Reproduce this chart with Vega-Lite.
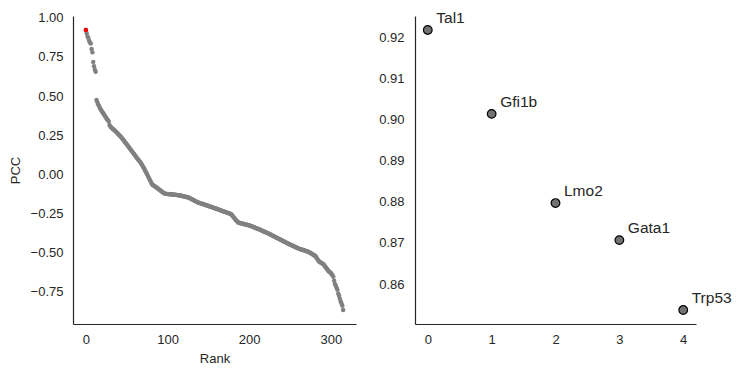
{
"$schema": "https://vega.github.io/schema/vega-lite/v6.json",
"background": "white",
"padding": {"left": 9, "top": 10, "right": 0, "bottom": 0},
"config": {
  "view": {"stroke": null},
  "font": "Liberation Sans",
  "axis": {"grid": false, "ticks": false, "tickSize": 0, "domainColor": "#262626", "domainWidth": 1.2, "labelColor": "#262626", "titleColor": "#262626", "labelFontSize": 13, "titleFontSize": 13, "titleFontWeight": "normal", "labelFont": "Liberation Sans", "titleFont": "Liberation Sans"}
},
"spacing": 22,
"hconcat": [
{
  "width": 283, "height": 308,
  "data": {"values": [
{"r":0,"v":0.9218},{"r":1,"v":0.9014},{"r":2,"v":0.8797},{"r":3,"v":0.8707},{"r":4,"v":0.8537},{"r":5,"v":0.842},{"r":6,"v":0.836},{"r":7,"v":0.800},{"r":8,"v":0.780},{"r":9,"v":0.718},
{"r":10,"v":0.690},{"r":11,"v":0.668},{"r":12,"v":0.655},{"r":13,"v":0.474},{"r":14,"v":0.462},{"r":15,"v":0.448},{"r":16,"v":0.438},{"r":17,"v":0.425},{"r":18,"v":0.415},{"r":19,"v":0.407},
{"r":20,"v":0.399},{"r":21,"v":0.391},{"r":22,"v":0.383},{"r":23,"v":0.375},{"r":24,"v":0.367},{"r":25,"v":0.359},{"r":26,"v":0.351},{"r":27,"v":0.345},{"r":28,"v":0.338},{"r":29,"v":0.315},
{"r":30,"v":0.305},{"r":31,"v":0.300},{"r":32,"v":0.295},{"r":33,"v":0.290},{"r":34,"v":0.286},{"r":35,"v":0.281},{"r":36,"v":0.276},{"r":37,"v":0.271},{"r":38,"v":0.266},{"r":39,"v":0.260},
{"r":40,"v":0.255},{"r":41,"v":0.250},{"r":42,"v":0.245},{"r":43,"v":0.238},{"r":44,"v":0.232},{"r":45,"v":0.225},{"r":46,"v":0.219},{"r":47,"v":0.212},{"r":48,"v":0.205},{"r":49,"v":0.199},
{"r":50,"v":0.192},{"r":51,"v":0.185},{"r":52,"v":0.178},{"r":53,"v":0.171},{"r":54,"v":0.164},{"r":55,"v":0.157},{"r":56,"v":0.150},{"r":57,"v":0.143},{"r":58,"v":0.136},{"r":59,"v":0.129},
{"r":60,"v":0.122},{"r":61,"v":0.115},{"r":62,"v":0.108},{"r":63,"v":0.101},{"r":64,"v":0.095},{"r":65,"v":0.088},{"r":66,"v":0.081},{"r":67,"v":0.075},{"r":68,"v":0.068},{"r":69,"v":0.058},
{"r":70,"v":0.049},{"r":71,"v":0.040},{"r":72,"v":0.030},{"r":73,"v":0.020},{"r":74,"v":0.010},{"r":75,"v":0.000},{"r":76,"v":-0.011},{"r":77,"v":-0.022},{"r":78,"v":-0.032},{"r":79,"v":-0.043},
{"r":80,"v":-0.053},{"r":81,"v":-0.064},{"r":82,"v":-0.068},{"r":83,"v":-0.072},{"r":84,"v":-0.075},{"r":85,"v":-0.079},{"r":86,"v":-0.082},{"r":87,"v":-0.086},{"r":88,"v":-0.090},{"r":89,"v":-0.094},
{"r":90,"v":-0.098},{"r":91,"v":-0.102},{"r":92,"v":-0.106},{"r":93,"v":-0.110},{"r":94,"v":-0.114},{"r":95,"v":-0.117},{"r":96,"v":-0.121},{"r":97,"v":-0.124},{"r":98,"v":-0.125},{"r":99,"v":-0.125},
{"r":100,"v":-0.126},{"r":101,"v":-0.126},{"r":102,"v":-0.127},{"r":103,"v":-0.127},{"r":104,"v":-0.128},{"r":105,"v":-0.128},{"r":106,"v":-0.129},{"r":107,"v":-0.129},{"r":108,"v":-0.130},{"r":109,"v":-0.131},
{"r":110,"v":-0.131},{"r":111,"v":-0.132},{"r":112,"v":-0.133},{"r":113,"v":-0.133},{"r":114,"v":-0.134},{"r":115,"v":-0.135},{"r":116,"v":-0.136},{"r":117,"v":-0.137},{"r":118,"v":-0.139},{"r":119,"v":-0.140},
{"r":120,"v":-0.141},{"r":121,"v":-0.142},{"r":122,"v":-0.144},{"r":123,"v":-0.145},{"r":124,"v":-0.146},{"r":125,"v":-0.147},{"r":126,"v":-0.149},{"r":127,"v":-0.151},{"r":128,"v":-0.154},{"r":129,"v":-0.157},
{"r":130,"v":-0.160},{"r":131,"v":-0.162},{"r":132,"v":-0.165},{"r":133,"v":-0.168},{"r":134,"v":-0.170},{"r":135,"v":-0.173},{"r":136,"v":-0.176},{"r":137,"v":-0.178},{"r":138,"v":-0.181},{"r":139,"v":-0.183},
{"r":140,"v":-0.184},{"r":141,"v":-0.186},{"r":142,"v":-0.188},{"r":143,"v":-0.190},{"r":144,"v":-0.191},{"r":145,"v":-0.193},{"r":146,"v":-0.195},{"r":147,"v":-0.197},{"r":148,"v":-0.198},{"r":149,"v":-0.200},
{"r":150,"v":-0.202},{"r":151,"v":-0.204},{"r":152,"v":-0.206},{"r":153,"v":-0.207},{"r":154,"v":-0.209},{"r":155,"v":-0.211},{"r":156,"v":-0.213},{"r":157,"v":-0.215},{"r":158,"v":-0.217},{"r":159,"v":-0.218},
{"r":160,"v":-0.220},{"r":161,"v":-0.222},{"r":162,"v":-0.224},{"r":163,"v":-0.226},{"r":164,"v":-0.228},{"r":165,"v":-0.230},{"r":166,"v":-0.232},{"r":167,"v":-0.234},{"r":168,"v":-0.236},{"r":169,"v":-0.238},
{"r":170,"v":-0.240},{"r":171,"v":-0.241},{"r":172,"v":-0.243},{"r":173,"v":-0.245},{"r":174,"v":-0.247},{"r":175,"v":-0.249},{"r":176,"v":-0.251},{"r":177,"v":-0.253},{"r":178,"v":-0.255},{"r":179,"v":-0.262},
{"r":180,"v":-0.268},{"r":181,"v":-0.275},{"r":182,"v":-0.281},{"r":183,"v":-0.288},{"r":184,"v":-0.293},{"r":185,"v":-0.299},{"r":186,"v":-0.304},{"r":187,"v":-0.309},{"r":188,"v":-0.310},{"r":189,"v":-0.312},
{"r":190,"v":-0.313},{"r":191,"v":-0.314},{"r":192,"v":-0.316},{"r":193,"v":-0.317},{"r":194,"v":-0.318},{"r":195,"v":-0.320},{"r":196,"v":-0.321},{"r":197,"v":-0.322},{"r":198,"v":-0.324},{"r":199,"v":-0.325},
{"r":200,"v":-0.326},{"r":201,"v":-0.328},{"r":202,"v":-0.330},{"r":203,"v":-0.332},{"r":204,"v":-0.334},{"r":205,"v":-0.336},{"r":206,"v":-0.338},{"r":207,"v":-0.341},{"r":208,"v":-0.343},{"r":209,"v":-0.345},
{"r":210,"v":-0.347},{"r":211,"v":-0.349},{"r":212,"v":-0.351},{"r":213,"v":-0.353},{"r":214,"v":-0.356},{"r":215,"v":-0.358},{"r":216,"v":-0.360},{"r":217,"v":-0.363},{"r":218,"v":-0.365},{"r":219,"v":-0.367},
{"r":220,"v":-0.370},{"r":221,"v":-0.372},{"r":222,"v":-0.374},{"r":223,"v":-0.377},{"r":224,"v":-0.379},{"r":225,"v":-0.382},{"r":226,"v":-0.384},{"r":227,"v":-0.387},{"r":228,"v":-0.390},{"r":229,"v":-0.392},
{"r":230,"v":-0.395},{"r":231,"v":-0.398},{"r":232,"v":-0.400},{"r":233,"v":-0.403},{"r":234,"v":-0.406},{"r":235,"v":-0.408},{"r":236,"v":-0.411},{"r":237,"v":-0.414},{"r":238,"v":-0.416},{"r":239,"v":-0.419},
{"r":240,"v":-0.422},{"r":241,"v":-0.424},{"r":242,"v":-0.427},{"r":243,"v":-0.430},{"r":244,"v":-0.432},{"r":245,"v":-0.435},{"r":246,"v":-0.438},{"r":247,"v":-0.440},{"r":248,"v":-0.443},{"r":249,"v":-0.446},
{"r":250,"v":-0.448},{"r":251,"v":-0.451},{"r":252,"v":-0.453},{"r":253,"v":-0.456},{"r":254,"v":-0.458},{"r":255,"v":-0.461},{"r":256,"v":-0.463},{"r":257,"v":-0.466},{"r":258,"v":-0.468},{"r":259,"v":-0.471},
{"r":260,"v":-0.473},{"r":261,"v":-0.475},{"r":262,"v":-0.477},{"r":263,"v":-0.478},{"r":264,"v":-0.480},{"r":265,"v":-0.482},{"r":266,"v":-0.484},{"r":267,"v":-0.485},{"r":268,"v":-0.487},{"r":269,"v":-0.489},
{"r":270,"v":-0.491},{"r":271,"v":-0.492},{"r":272,"v":-0.494},{"r":273,"v":-0.496},{"r":274,"v":-0.499},{"r":275,"v":-0.503},{"r":276,"v":-0.506},{"r":277,"v":-0.509},{"r":278,"v":-0.512},{"r":279,"v":-0.516},
{"r":280,"v":-0.519},{"r":281,"v":-0.522},{"r":282,"v":-0.530},{"r":283,"v":-0.538},{"r":284,"v":-0.546},{"r":285,"v":-0.554},{"r":286,"v":-0.558},{"r":287,"v":-0.561},{"r":288,"v":-0.565},{"r":289,"v":-0.568},
{"r":290,"v":-0.572},{"r":291,"v":-0.575},{"r":292,"v":-0.582},{"r":293,"v":-0.589},{"r":294,"v":-0.596},{"r":295,"v":-0.603},{"r":296,"v":-0.610},{"r":297,"v":-0.617},{"r":298,"v":-0.622},{"r":299,"v":-0.626},
{"r":300,"v":-0.630},{"r":301,"v":-0.638},{"r":302,"v":-0.645},{"r":303,"v":-0.655},{"r":304,"v":-0.680},{"r":305,"v":-0.700},{"r":306,"v":-0.712},{"r":307,"v":-0.725},{"r":308,"v":-0.738},{"r":309,"v":-0.762},
{"r":310,"v":-0.775},{"r":311,"v":-0.795},{"r":312,"v":-0.812},{"r":313,"v":-0.825},{"r":314,"v":-0.840},{"r":315,"v":-0.867}
  ]},
  "encoding": {
    "x": {"field": "r", "type": "quantitative", "scale": {"domain": [-15.75, 330.75], "nice": false, "zero": false}, "axis": {"values": [0, 100, 200, 300], "title": "Rank", "labelPadding": 9, "titlePadding": 6}},
    "y": {"field": "v", "type": "quantitative", "scale": {"domain": [-0.956, 1.011], "nice": false, "zero": false}, "axis": {"values": [-0.75, -0.5, -0.25, 0, 0.25, 0.5, 0.75, 1], "format": ".2f", "title": "PCC", "labelPadding": 10, "titlePadding": 8}}
  },
  "layer": [
    {"mark": {"type": "point", "filled": true, "size": 20, "opacity": 1, "color": "#808080"}},
    {"transform": [{"filter": "datum.r === 0"}], "mark": {"type": "point", "filled": true, "size": 20, "opacity": 1, "color": "#ff0000"}}
  ]
},
{
  "width": 281, "height": 308,
  "data": {"values": [
    {"i": 0, "gene": "Tal1", "v": 0.9218},
    {"i": 1, "gene": "Gfi1b", "v": 0.9014},
    {"i": 2, "gene": "Lmo2", "v": 0.8797},
    {"i": 3, "gene": "Gata1", "v": 0.8707},
    {"i": 4, "gene": "Trp53", "v": 0.8537}
  ]},
  "encoding": {
    "x": {"field": "i", "type": "quantitative", "scale": {"domain": [-0.2, 4.2], "nice": false, "zero": false}, "axis": {"values": [0, 1, 2, 3, 4], "format": "d", "title": null, "labelPadding": 9}},
    "y": {"field": "v", "type": "quantitative", "scale": {"domain": [0.8503, 0.9252], "nice": false, "zero": false}, "axis": {"values": [0.86, 0.87, 0.88, 0.89, 0.90, 0.91, 0.92], "format": ".2f", "title": null, "labelPadding": 11}}
  },
  "layer": [
    {"mark": {"type": "point", "filled": true, "size": 75, "opacity": 1, "fill": "#737373", "stroke": "#000000", "strokeWidth": 1.2}},
    {"mark": {"type": "text", "align": "left", "baseline": "alphabetic", "dx": 8.5, "dy": -7, "fontSize": 15.5, "color": "#262626", "font": "Liberation Sans"}, "encoding": {"text": {"field": "gene"}}}
  ]
}
]
}
